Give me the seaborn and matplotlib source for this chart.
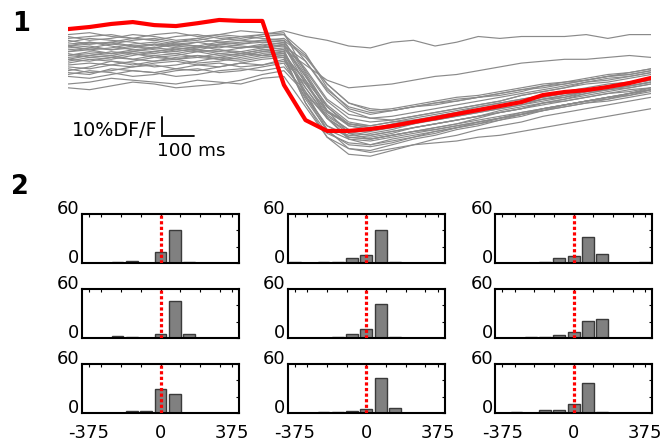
import numpy as np
import pandas as pd
import matplotlib
matplotlib.use("Agg")
import matplotlib.pyplot as plt
import seaborn as sns

sns.set_theme(style="white")
plt.rcParams["font.family"] = ["DejaVu Sans"]
plt.rcParams["text.color"] = "black"
plt.rcParams["axes.labelcolor"] = "black"
plt.rcParams["xtick.color"] = "black"
plt.rcParams["ytick.color"] = "black"

# ---------------- data ----------------
frame_ms = np.arange(28) * 68.0  # sampling times (ms)

red_mean = [68.9, 70.0, 71.6, 72.6, 71.0, 70.5, 72.0, 73.7, 73.2, 73.2, 39.5,
            21.0, 15.3, 15.3, 16.3, 17.9, 20.0, 22.0, 24.2, 26.3, 28.4, 30.5,
            34.2, 35.8, 36.8, 38.4, 40.5, 43.2]

t01 = [60,62,61,63,64,62,63,65,64,66,68, 65,63, 60,59,62,63,60,62,65,64,65,65,65,66,64,66,66]
t02 = [55,57,56,58,57,59,58,57,59,60,58, 50,42, 38,39,40,42,44,45,47,49,51,52,53,53,54,55,54]
t03 = [66,67,65,64,66,67,65,66,68,67,66, 52,36, 26,22,21,23,25,27,29,31,34,36,38,41,42,44,46]
t04 = [63,61,62,64,63,61,62,63,65,64,63, 45,26, 14,11,13,15,17,19,22,25,27,30,32,35,37,39,41]
t05 = [58,59,61,60,58,57,59,61,60,59,61, 42,22, 11,8,10,12,15,17,19,22,24,26,29,31,33,35,38]
t06 = [52,54,53,55,57,56,54,53,55,57,56, 36,16, 6,5,8,11,13,16,18,21,23,26,28,30,32,35,37]
t07 = [47,49,52,51,49,50,52,54,53,55,54, 30,12, 3,2,5,8,11,13,16,18,20,23,25,27,29,31,33]
t08 = [38,37,39,41,40,38,39,40,42,45,47, 35,22, 12,11,13,15,16,18,20,22,24,27,29,31,33,34,36]
t09 = [40,41,43,42,41,40,42,41,40,43,44, 28,12, 6,4,6,8,9,10,12,13,15,17,19,21,23,25,27]
t10 = [62,64,63,62,60,62,64,62,61,63,64, 55,40, 30,27,26,28,30,31,33,35,37,39,40,42,44,45,47]
t11 = [60,58,59,61,62,60,59,61,62,63,62, 48,32, 24,22,23,25,27,29,31,33,35,37,39,41,43,44,46]
t12 = [57,58,56,57,59,61,60,58,57,59,60, 40,24, 16,15,17,19,21,23,25,27,29,31,33,36,38,40,42]
t13 = [54,55,57,56,54,55,57,58,56,55,57, 38,22, 15,13,15,17,19,21,23,25,27,30,32,34,36,38,40]
t14 = [50,51,50,52,54,53,51,52,54,56,55, 42,28, 19,17,18,20,21,23,25,27,29,32,34,36,37,39,41]
t15 = [48,46,47,49,50,48,47,49,51,50,52, 40,26, 19,18,20,21,22,24,26,28,30,32,33,35,37,38,40]
t16 = [45,47,46,44,45,47,48,46,47,49,51, 33,18, 12,11,13,15,17,19,21,23,25,27,29,31,33,35,37]
t17 = [65,63,64,66,65,63,64,66,65,66,67, 46,28, 18,16,19,21,23,25,28,30,32,34,36,38,40,41,43]
t18 = [56,54,55,53,55,56,58,56,55,57,58, 34,18, 13,12,14,17,19,21,23,26,28,30,31,33,35,36,38]
t19 = [59,60,58,59,61,60,62,60,59,61,60, 52,37, 28,25,26,28,30,32,33,35,37,38,40,42,44,45,47]
t20 = [53,52,54,53,52,54,55,54,56,58,57, 34,15, 8,7,9,12,14,17,19,21,24,26,28,30,31,33,35]
t21 = [61,62,60,58,59,61,60,62,63,62,61, 44,26, 18,16,18,20,23,25,27,29,31,33,35,37,39,41,42]
t22 = [44,43,45,47,46,44,45,47,48,47,49, 36,22, 14,13,15,17,19,21,23,25,27,29,31,33,35,37,38]
t23 = [55,56,55,57,56,58,57,55,56,58,59, 44,29, 20,18,20,22,24,26,28,30,32,34,35,37,39,41,42]
t24 = [49,48,50,49,51,52,50,49,51,53,54, 38,23, 16,14,16,19,22,24,26,28,31,33,35,36,38,39,41]
t25 = [64,65,66,64,63,65,66,64,63,65,66, 56,38, 27,24,26,28,29,31,33,34,36,39,41,42,44,46,48]
t26 = [51,53,52,50,52,53,55,53,52,54,55, 30,14, 9,8,11,13,15,17,20,22,24,27,29,31,33,35,37]
t27 = [46,45,48,47,46,48,50,51,49,50,53, 32,16, 11,10,12,14,16,18,20,22,25,27,29,31,32,34,37]
t28 = [57,59,58,60,61,59,58,60,59,60,62, 47,31, 22,20,21,23,25,27,29,31,34,36,38,40,41,43,45]
t29 = [60,61,62,60,59,58,60,59,61,62,63, 54,40, 30,26,27,29,31,33,34,36,38,40,41,43,45,46,48]
t30 = [53,55,54,56,55,53,54,56,57,55,56, 41,25, 19,17,18,20,22,24,26,28,30,32,34,36,38,40,43]
grey_traces = [t01, t02, t03, t04, t05, t06, t07, t08, t09, t10, t11, t12, t13, t14, t15,
               t16, t17, t18, t19, t20, t21, t22, t23, t24, t25, t26, t27, t28, t29, t30]

# histogram bins (ms), 11 bins spanning -375..375
bin_centers = [-340.9, -272.7, -204.5, -136.4, -68.2, 0.0, 68.2, 136.4, 204.5, 272.7, 340.9]
counts_r1c1 = [0, 0, 1, 3, 0, 14, 41, 1, 0, 0, 0]
counts_r2c1 = [0, 0, 3, 2, 0, 5, 45, 5, 0, 0, 0]
counts_r3c1 = [0, 0, 0, 3, 3, 30, 24, 0, 0, 0, 0]
counts_r1c2 = [1, 0, 1, 1, 6, 10, 41, 2, 0, 0, 0]
counts_r2c2 = [0, 0, 0, 1, 5, 11, 42, 1, 0, 0, 0]
counts_r3c2 = [0, 0, 1, 2, 3, 5, 43, 6, 0, 0, 0]
counts_r1c3 = [0, 0, 0, 1, 6, 9, 32, 11, 0, 0, 1]
counts_r2c3 = [0, 0, 2, 1, 4, 8, 21, 24, 0, 0, 0]
counts_r3c3 = [0, 1, 0, 4, 4, 11, 37, 2, 0, 0, 0]
hist_grid = [[counts_r1c1, counts_r1c2, counts_r1c3],
             [counts_r2c1, counts_r2c2, counts_r2c3],
             [counts_r3c1, counts_r3c2, counts_r3c3]]
x_tick_labels = ["-375", "0", "375"]
y_tick_labels = ["0", "", "", "60"]

# ---------------- figure ----------------
W, H = 666, 446
fig = plt.figure(figsize=(W / 100, H / 100), dpi=100)


def ax_px(x0, y0, x1, y1):
    return fig.add_axes([x0 / W, 1 - y1 / H, (x1 - x0) / W, (y1 - y0) / H])


# ---- panel 1: traces ----
ax1 = ax_px(68, 15, 651, 165)
for tr in grey_traces:
    assert len(tr) == len(frame_ms)
long_df = pd.DataFrame({
    "t": np.tile(frame_ms, len(grey_traces)),
    "v": np.concatenate([np.asarray(tr, float) for tr in grey_traces]),
    "trace": np.repeat(np.arange(len(grey_traces)), len(frame_ms)),
})
sns.lineplot(data=long_df, x="t", y="v", units="trace", estimator=None,
             color="#8a8a8a", linewidth=0.85, ax=ax1, legend=False)
sns.lineplot(x=frame_ms, y=red_mean, color="#ff0000", linewidth=3.0, ax=ax1,
             legend=False, zorder=5)
ax1.set_xlim(0, frame_ms[-1])
ax1.set_ylim((160 - 165) / 1.9, (160 - 15) / 1.9)
ax1.axis("off")

# scale bar: 10 %DF/F and 100 ms
t0, v0 = 296.0, 12.6
ax1.plot([t0, t0, t0 + 100], [v0 + 10, v0, v0], color="black", lw=1.3,
         clip_on=False, solid_joinstyle="miter")
ax1.text(t0 - 15, v0, "10%DF/F", ha="right", va="baseline", fontsize=13.8)
ax1.text(t0 - 15, v0 - 3.2, "100 ms", ha="left", va="top", fontsize=13.2)

fig.text(12 / W, 1 - 11 / H, "1", ha="left", va="top", fontsize=18.5, fontweight="bold")
fig.text(11 / W, 1 - 174 / H, "2", ha="left", va="top", fontsize=18.5, fontweight="bold")

# ---- panel 2: histograms ----
cols = [(81.7, 239.3), (287.7, 445.0), (495.0, 652.3)]
rows = [(214.0, 263.3), (289.0, 338.3), (364.0, 413.3)]
for r, (y0, y1) in enumerate(rows):
    for c, (x0, x1) in enumerate(cols):
        ax = ax_px(x0, y0, x1, y1)
        counts = hist_grid[r][c]
        df = pd.DataFrame({"bin": bin_centers, "n": counts})
        df = df[df["n"] > 0]
        sns.barplot(data=df, x="bin", y="n", native_scale=True, color="#808080",
                    saturation=1, width=0.82, edgecolor="#3a3a3a", linewidth=1.0,
                    errorbar=None, ax=ax, zorder=2)
        ax.axvline(0, ymin=0, ymax=1, color="#ff0000", lw=2.3,
                   linestyle=(0, (1.0, 0.75)), zorder=3)
        ax.set_xlim(-375, 375)
        ax.set_ylim(0, 60)
        ax.set_xlabel("")
        ax.set_ylabel("")
        ax.set_xticks([-340.9, 0, 340.9])
        ax.set_xticks([-281.25, -187.5, -93.75, 93.75, 187.5, 281.25], minor=True)
        if r == 2:
            ax.set_xticklabels(x_tick_labels)
        else:
            ax.set_xticklabels(["", "", ""])
        ax.set_yticks([0, 20, 40, 60])
        ax.set_yticklabels(y_tick_labels)
        for lab in ax.get_yticklabels():
            lab.set_va("baseline")
        ax.tick_params(axis="both", which="both", direction="in", length=2.5,
                       width=0.8, color="black", top=True, right=True,
                       labelsize=13, labelcolor="black")
        ax.tick_params(axis="x", pad=7.5)
        ax.tick_params(axis="y", pad=1.5)
        ax.set_facecolor("white")
        for sp in ax.spines.values():
            sp.set_visible(True)
            sp.set_color("black")
            sp.set_linewidth(1.5)

fig.savefig("out.png", dpi=100)
